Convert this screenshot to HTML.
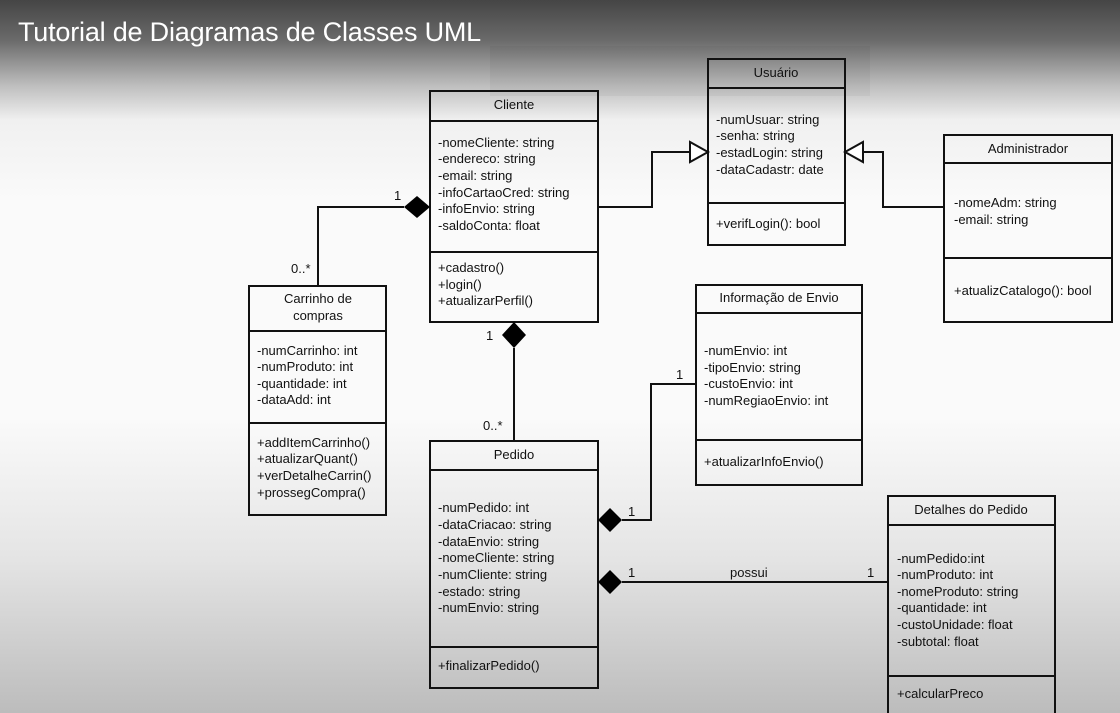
<!DOCTYPE html>
<html><head><meta charset="utf-8"><style>
html,body{margin:0;padding:0;}
body{width:1120px;height:713px;overflow:hidden;position:relative;background:linear-gradient(to bottom,#454545 0px,#6a6a6a 40px,#bdbdbd 85px,#f0f0f0 120px,#fafafa 200px,#fafafa 420px,#e4e4e4 560px,#bcbcbc 713px);font-family:"Liberation Sans",sans-serif;}
svg{position:absolute;left:0;top:0;}
text{font-family:"Liberation Sans",sans-serif;font-size:13px;fill:#111;}
.t{position:absolute;left:18px;top:17px;color:#fff;font-size:27px;font-family:"Liberation Sans",sans-serif;letter-spacing:-0.2px;}
.ov{position:absolute;left:490px;top:46px;width:380px;height:50px;background:rgba(0,0,0,0.04);}
</style></head><body>
<div class="ov"></div>
<div class="t">Tutorial de Diagramas de Classes UML</div>
<svg width="1120" height="713" viewBox="0 0 1120 713">
<g fill="none" stroke="#111" stroke-width="2">
<rect x="430" y="91" width="168" height="231"/><line x1="430" y1="121" x2="598" y2="121"/><line x1="430" y1="252" x2="598" y2="252"/>
<rect x="708" y="59" width="137" height="186"/><line x1="708" y1="88" x2="845" y2="88"/><line x1="708" y1="203" x2="845" y2="203"/>
<rect x="944" y="135" width="168" height="187"/><line x1="944" y1="163" x2="1112" y2="163"/><line x1="944" y1="258" x2="1112" y2="258"/>
<rect x="249" y="286" width="137" height="229"/><line x1="249" y1="331" x2="386" y2="331"/><line x1="249" y1="423" x2="386" y2="423"/>
<rect x="696" y="285" width="166" height="200"/><line x1="696" y1="313" x2="862" y2="313"/><line x1="696" y1="440" x2="862" y2="440"/>
<rect x="430" y="441" width="168" height="247"/><line x1="430" y1="470" x2="598" y2="470"/><line x1="430" y1="647" x2="598" y2="647"/>
<rect x="888" y="496" width="167" height="230"/><line x1="888" y1="525" x2="1055" y2="525"/><line x1="888" y1="676" x2="1055" y2="676"/>
<polyline points="404,207 318,207 318,286"/>
<polyline points="598,207 652,207 652,152 690,152"/>
<polyline points="944,207 883,207 883,152 863,152"/>
<line x1="514" y1="348" x2="514" y2="441"/>
<polyline points="622,520 651,520 651,384 696,384"/>
<line x1="622" y1="582" x2="888" y2="582"/>
</g>
<g fill="#000">
<polygon points="430,207 417,196 404,207 417,218"/>
<polygon points="514,322 526,335 514,348 502,335"/>
<polygon points="598,520 610,508 622,520 610,532"/>
<polygon points="598,582 610,570 622,582 610,594"/>
</g>
<g fill="#fff" stroke="#111" stroke-width="2">
<polygon points="708,152 690,142 690,162"/>
<polygon points="845,152 863,142 863,162"/>
</g>
<g text-anchor="middle">
<text x="514" y="109">Cliente</text>
<text x="776" y="77">Usuário</text>
<text x="1028" y="153">Administrador</text>
<text x="318" y="303">Carrinho de</text><text x="318" y="320">compras</text>
<text x="779" y="302">Informação de Envio</text>
<text x="514" y="459">Pedido</text>
<text x="971" y="514">Detalhes do Pedido</text>
</g>
<g>
<text x="438" y="147">-nomeCliente: string</text><text x="438" y="163">-endereco: string</text><text x="438" y="180">-email: string</text><text x="438" y="197">-infoCartaoCred: string</text><text x="438" y="213">-infoEnvio: string</text><text x="438" y="230">-saldoConta: float</text>
<text x="438" y="272">+cadastro()</text><text x="438" y="289">+login()</text><text x="438" y="305">+atualizarPerfil()</text>
<text x="716" y="124">-numUsuar: string</text><text x="716" y="140">-senha: string</text><text x="716" y="157">-estadLogin: string</text><text x="716" y="174">-dataCadastr: date</text>
<text x="716" y="228">+verifLogin(): bool</text>
<text x="954" y="207">-nomeAdm: string</text><text x="954" y="224">-email: string</text>
<text x="954" y="295">+atualizCatalogo(): bool</text>
<text x="257" y="355">-numCarrinho: int</text><text x="257" y="371">-numProduto: int</text><text x="257" y="388">-quantidade: int</text><text x="257" y="404">-dataAdd: int</text>
<text x="257" y="447">+addItemCarrinho()</text><text x="257" y="463">+atualizarQuant()</text><text x="257" y="480">+verDetalheCarrin()</text><text x="257" y="497">+prossegCompra()</text>
<text x="704" y="355">-numEnvio: int</text><text x="704" y="372">-tipoEnvio: string</text><text x="704" y="388">-custoEnvio: int</text><text x="704" y="405">-numRegiaoEnvio: int</text>
<text x="704" y="466">+atualizarInfoEnvio()</text>
<text x="438" y="512">-numPedido: int</text><text x="438" y="529">-dataCriacao: string</text><text x="438" y="546">-dataEnvio: string</text><text x="438" y="562">-nomeCliente: string</text><text x="438" y="579">-numCliente: string</text><text x="438" y="596">-estado: string</text><text x="438" y="612">-numEnvio: string</text>
<text x="438" y="670">+finalizarPedido()</text>
<text x="897" y="563">-numPedido:int</text><text x="897" y="579">-numProduto: int</text><text x="897" y="596">-nomeProduto: string</text><text x="897" y="612">-quantidade: int</text><text x="897" y="629">-custoUnidade: float</text><text x="897" y="646">-subtotal: float</text>
<text x="897" y="698">+calcularPreco</text>
<text x="394" y="200">1</text><text x="291" y="273">0..*</text>
<text x="486" y="340">1</text><text x="483" y="430">0..*</text>
<text x="628" y="516">1</text><text x="676" y="379">1</text>
<text x="628" y="577">1</text><text x="730" y="577">possui</text><text x="867" y="577">1</text>
</g>
</svg>
</body></html>
